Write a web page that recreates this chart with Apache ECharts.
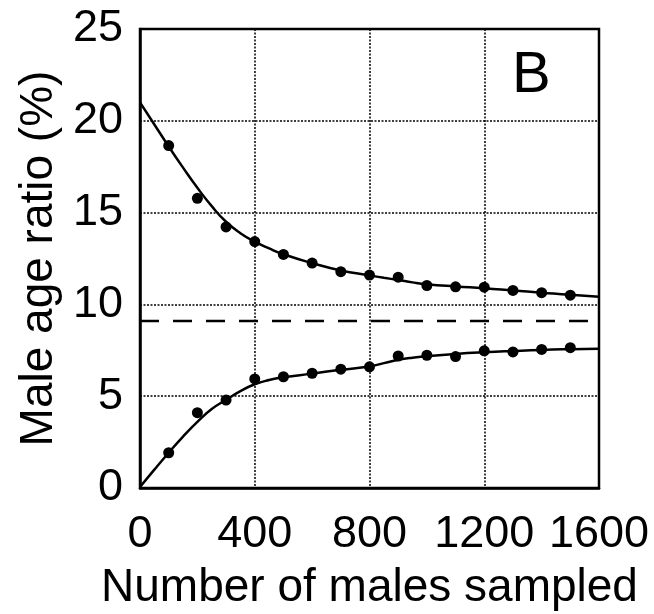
<!DOCTYPE html>
<html>
<head>
<meta charset="utf-8">
<script src="https://cdn.jsdelivr.net/npm/echarts@6/dist/echarts.min.js"></script>
<style>
html, body { margin: 0; padding: 0; background: #fff; }
#box { width: 654px; height: 614px; }
</style>
</head>
<body>
<div id="box"></div>
<script>
// sampled points (number of males sampled, ratio %)
var sampleSizes = [100, 200, 300, 400, 500, 600, 700, 800, 900, 1000, 1100, 1200, 1300, 1400, 1500];
var upperPoints = [18.65, 15.78, 14.22, 13.42, 12.72, 12.25, 11.78, 11.6, 11.48, 11.03, 10.96, 10.94, 10.76, 10.64, 10.5];
var lowerPoints = [1.92, 4.1, 4.79, 5.94, 6.06, 6.25, 6.47, 6.6, 7.19, 7.23, 7.16, 7.47, 7.41, 7.55, 7.64];

// fitted curves
var curveX = [0, 50, 100, 150, 200, 250, 300, 350, 400, 450, 500, 600, 700, 800, 850, 900, 950, 1000, 1100, 1200, 1300, 1400, 1500, 1600];
var upperCurve = [21.0, 19.8, 18.6, 17.45, 16.35, 15.35, 14.5, 13.88, 13.42, 13.05, 12.73, 12.25, 11.85, 11.58, 11.45, 11.33, 11.2, 11.1, 10.98, 10.88, 10.76, 10.64, 10.52, 10.42];
var lowerCurve = [0.05, 1.0, 1.92, 2.8, 3.6, 4.3, 4.8, 5.28, 5.65, 5.88, 6.03, 6.23, 6.44, 6.62, 6.8, 6.98, 7.1, 7.18, 7.3, 7.39, 7.46, 7.52, 7.56, 7.59];

var expectedRatio = 9.1;
var xTicks = [0, 400, 800, 1200, 1600];
var yTicks = [0, 5, 10, 15, 20, 25];

function pairs(xs, ys) {
    return xs.map(function (x, i) { return [x, ys[i]]; });
}

var font = 'Liberation Sans';
var myChart = echarts.init(document.getElementById('box'));

var option = {
    backgroundColor: '#fff',
    animation: false,
    title: {
        text: 'B',
        left: 507,
        top: 42,
        textStyle: { fontFamily: font, fontSize: 58, fontWeight: 'normal', color: '#000' }
    },
    grid: {
        left: 140, right: 55, top: 29, bottom: 126,
        containLabel: false,
        outerBoundsMode: 'none',
        show: true,
        borderColor: '#000',
        borderWidth: 2.5
    },
    xAxis: {
        type: 'value',
        min: xTicks[0],
        max: xTicks[xTicks.length - 1],
        interval: 400,
        name: 'Number of males sampled',
        nameLocation: 'middle',
        nameGap: 77,
        nameTextStyle: { fontFamily: font, fontSize: 46, color: '#000' },
        axisLine: { lineStyle: { color: '#000', width: 2.5 } },
        axisTick: { show: false },
        axisLabel: {
            fontFamily: font, fontSize: 45, color: '#000', margin: 24,
            showMinLabel: true, showMaxLabel: true,
            formatter: function (v) { return String(v); }
        },
        splitLine: { lineStyle: { color: '#000', width: 1.5, type: [2, 1.5] } }
    },
    yAxis: {
        type: 'value',
        min: yTicks[0],
        max: yTicks[yTicks.length - 1],
        interval: 5,
        name: 'Male age ratio (%)',
        nameLocation: 'middle',
        nameGap: 68,
        nameTextStyle: { fontFamily: font, fontSize: 46, color: '#000' },
        axisLine: { lineStyle: { color: '#000', width: 2.5 } },
        axisTick: { show: false },
        axisLabel: {
            fontFamily: font, fontSize: 45, color: '#000', margin: 17,
            showMinLabel: true, showMaxLabel: true
        },
        splitLine: { lineStyle: { color: '#000', width: 1.5, type: [2, 1.5] } }
    },
    series: [
        {
            name: 'expected',
            type: 'line',
            data: [[xTicks[0], expectedRatio], [xTicks[xTicks.length - 1], expectedRatio]],
            symbol: 'none',
            lineStyle: { color: '#000', width: 2.5, type: [19, 14] },
            z: 3
        },
        {
            name: 'upper fit',
            type: 'line',
            data: pairs(curveX, upperCurve),
            smooth: true,
            symbol: 'none',
            lineStyle: { color: '#000', width: 2.5 }
        },
        {
            name: 'lower fit',
            type: 'line',
            data: pairs(curveX, lowerCurve),
            smooth: true,
            symbol: 'none',
            lineStyle: { color: '#000', width: 2.5 }
        },
        {
            name: 'upper',
            type: 'scatter',
            data: pairs(sampleSizes, upperPoints),
            symbolSize: 11,
            itemStyle: { color: '#000', opacity: 1 }
        },
        {
            name: 'lower',
            type: 'scatter',
            data: pairs(sampleSizes, lowerPoints),
            symbolSize: 11,
            itemStyle: { color: '#000', opacity: 1 }
        }
    ]
};
myChart.setOption(option);
</script>
</body>
</html>
